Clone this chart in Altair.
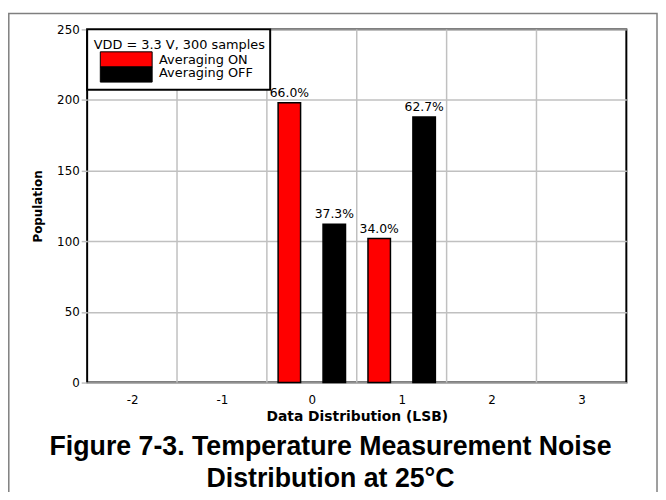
import altair as alt
import pandas as pd

# ---- data ----
series = ["Averaging ON", "Averaging OFF"]
series_colors = ["#ff0000", "#000000"]
bins = [0, 1]
on_counts = [198, 102]
off_counts = [112, 188]
total_samples = 300
x_ticks = [-2, -1, 0, 1, 2, 3]
x_grid = [-1.5, -0.5, 0.5, 1.5, 2.5]
y_ticks = [0, 50, 100, 150, 200, 250]
legend_title = "VDD = 3.3 V, 300 samples"
x_title = "Data Distribution (LSB)"
y_title = "Population"
title_lines = ["Figure 7-3. Temperature Measurement Noise", "Distribution at 25°C"]

rows = []
for b, c in zip(bins, on_counts):
    rows.append({"bin": b, "series": series[0], "count": c, "shift": -0.25})
for b, c in zip(bins, off_counts):
    rows.append({"bin": b, "series": series[1], "count": c, "shift": 0.25})
df = pd.DataFrame(rows)

FONT = "DejaVu Sans"
GRID = "#c0c0c0"

xscale = alt.Scale(domain=[-2.5, 3.5], nice=False, zero=False)
yscale = alt.Scale(domain=[0, 250], nice=False, zero=True)

x_axis = alt.Axis(
    values=x_ticks, grid=False, ticks=False, domain=False,
    labelExpr="replace(datum.label, '\u2212', '-')",
    labelFont=FONT, labelFontSize=12, labelColor="black", labelPadding=12,
    title=x_title, titleFont=FONT, titleFontSize=14, titleFontWeight="bold",
    titleColor="black", titleBaseline="alphabetic", titleY=38,
)
y_axis = alt.Axis(
    values=y_ticks, grid=True, gridColor=GRID, gridWidth=1.5, domain=False,
    ticks=True, tickColor=GRID, tickSize=6, tickWidth=1.5,
    labelFont=FONT, labelFontSize=12, labelColor="black", labelPadding=2,
    title=y_title, titleFont=FONT, titleFontSize=12, titleFontWeight="bold",
    titleColor="black", titleX=-50, titleY=178.5, titleAngle=270,
    titleAlign="center", titleBaseline="middle",
)

base = alt.Chart(df).transform_calculate(
    xc="datum.bin + datum.shift",
    x0="datum.bin + datum.shift - 0.125",
    x1="datum.bin + datum.shift + 0.125",
    pct=f"datum.count / {total_samples}",
)

bars = base.mark_bar(stroke="black", strokeWidth=1.5).encode(
    x=alt.X("x0:Q", scale=xscale, axis=x_axis),
    x2="x1:Q",
    y=alt.Y("count:Q", scale=yscale, axis=y_axis),
    y2=alt.datum(0),
    color=alt.Color("series:N", scale=alt.Scale(domain=series, range=series_colors), legend=None),
)

vgrid = alt.Chart(pd.DataFrame({"g": x_grid})).mark_rule(
    color=GRID, strokeWidth=1.5
).encode(x=alt.X("g:Q", scale=xscale, axis=x_axis))

labels = base.mark_text(
    baseline="alphabetic", dy=-6, font=FONT, fontSize=12.5, color="black"
).encode(
    x=alt.X("xc:Q", scale=xscale, axis=x_axis),
    y=alt.Y("count:Q", scale=yscale, axis=y_axis),
    text=alt.Text("pct:Q", format=".1%"),
)

one = pd.DataFrame({"a": [0]})

legend_box = alt.Chart(one).mark_rect(fill="white", stroke="black", strokeWidth=2).encode(
    x=alt.value(0), x2=alt.value(185), y=alt.value(0), y2=alt.value(61)
)
legend_head = alt.Chart(one).mark_text(
    text=legend_title, align="left", baseline="alphabetic", font=FONT, fontSize=13, color="black"
).encode(x=alt.value(6.7), y=alt.value(20))

legend_layers = [legend_box, legend_head]
for i, (name, col) in enumerate(zip(series, series_colors)):
    top = 22.7 + i * 15.3
    legend_layers.append(
        alt.Chart(one).mark_rect(fill=col, stroke="black", strokeWidth=1).encode(
            x=alt.value(13.3), x2=alt.value(65.7), y=alt.value(top), y2=alt.value(top + 15.3)
        )
    )
    legend_layers.append(
        alt.Chart(one).mark_text(
            text=name, align="left", baseline="alphabetic", font=FONT, fontSize=13, color="black"
        ).encode(x=alt.value(72.7), y=alt.value(35.3 + i * 13))
    )

title_layers = []
for i, line in enumerate(title_lines):
    title_layers.append(
        alt.Chart(one).mark_text(
            text=line, align="center", baseline="alphabetic",
            font="Liberation Sans", fontSize=27, fontWeight="bold", color="black"
        ).encode(x=alt.value(246), y=alt.value(430 + i * 33))
    )

frame = alt.Chart(one).mark_rect(fillOpacity=0, stroke="#7f7f7f", strokeWidth=1.5).encode(
    x=alt.value(-79.2), x2=alt.value(576), y=alt.value(-16), y2=alt.value(520)
)

chart = alt.layer(
    bars, vgrid, labels, *legend_layers, *title_layers, frame
).properties(
    width=545,
    height=357,
    autosize=alt.AutoSizeParams(type="none"),
    padding={"left": 80, "top": 19, "right": 32, "bottom": 108},
).configure_view(stroke="black", strokeWidth=2)

chart.save("out.html", embed_options={"renderer": "svg", "actions": False})
